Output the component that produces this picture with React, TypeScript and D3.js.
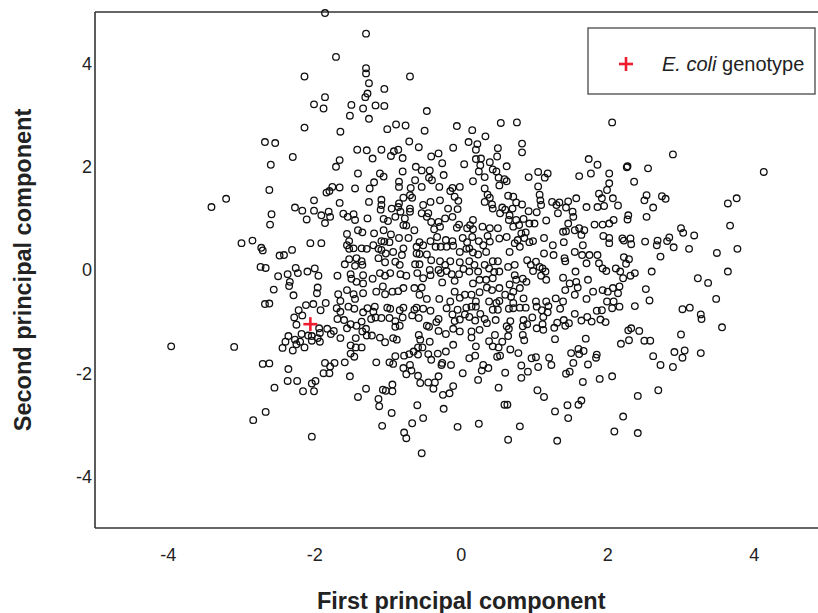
import React from "react";
import * as d3 from "d3";

const xTicks = [-4, -2, 0, 2, 4];
const yTicks = [-4, -2, 0, 2, 4];
const xTitle = "First principal component";
const yTitle = "Second principal component";
const legendLabelItalic = "E. coli";
const legendLabelRest = " genotype";
const ecoli: [number, number] = [-2.06, -1.05];

const genotypes: [number, number][] = [
[-2.14,3.75],[-2.01,3.21],[-2.14,2.76],[-2.68,2.48],[-2.54,2.46],
[-1.86,4.98],[-1.30,4.58],[-1.71,4.13],[-1.30,3.91],[-1.30,3.81],[-1.26,3.62],[-1.05,3.51],[-0.70,3.75],
[-1.86,3.35],[-1.88,3.13],[-1.50,3.20],[-1.28,3.42],[-1.31,3.35],[-1.34,3.13],[-1.17,3.19],[-1.05,3.18],
[-1.52,2.99],[-1.26,2.93],[-0.47,3.08],[-1.65,2.68],[-1.01,2.73],[-0.89,2.82],[-0.76,2.80],[-0.50,2.70],
[-0.06,2.79],[-0.71,2.49],[-0.58,2.38],[-0.11,2.37],[0.10,2.48],[-1.42,2.33],[-1.29,2.32],[-1.09,2.33],
[-0.92,2.30],[-0.86,2.33],[-0.31,2.26],
[0.54,2.85],[0.76,2.86],[2.06,2.86],[0.15,2.71],[0.33,2.59],[0.22,2.44],[0.50,2.36],[0.83,2.45],[0.83,2.28],[0.20,2.33],
[2.89,2.24],
[-2.30,2.19],[-2.60,2.04],[-2.62,1.55],[-3.21,1.38],[-3.41,1.22],[-2.01,1.35],[-2.27,1.21],[-2.17,1.15],[-2.01,1.15],
[-2.11,0.98],[-2.59,1.08],[-2.61,0.88],[-3.00,0.52],[-2.85,0.57],[-2.73,0.43],[-2.71,0.38],[-2.06,0.52],[-2.48,0.28],
[-2.42,0.29],[-2.31,0.39],[-2.74,0.06],[-2.67,0.04],[-2.26,0.04],[-2.23,-0.06],[-2.10,-0.03],[-2.50,-0.12],[-2.37,-0.08],
[-2.34,-0.23],[-2.35,-0.31],[-2.56,-0.38],[-2.29,-0.49],[-2.68,-0.66],[-2.62,-0.65],[-2.12,-0.68],[-2.02,-0.66],
[-2.22,-0.78],[-2.28,-0.92],[-2.17,-0.88],[-2.25,-1.06],[-2.36,-1.28],[-2.18,-1.24],[-2.09,-1.27],[-2.04,-1.28],
[-2.40,-1.39],[-2.27,-1.35],[-2.20,-1.39],[-2.25,-1.44],[-2.44,-1.51],[-2.30,-1.56],[-2.14,-1.50],[-2.04,-1.37],
[-3.96,-1.48],[-3.10,-1.49],[-2.71,-1.82],[-2.62,-1.81],[-2.36,-1.92],[-2.55,-2.28],[-2.37,-2.15],[-2.24,-2.15],
[-2.04,-2.20],[-1.99,-2.15],[-2.16,-2.35],[-2.01,-2.35],[-2.67,-2.75],[-2.84,-2.91],[-2.04,-3.23],
[2.37,-0.70],[2.16,-0.71],[3.02,-0.76],[3.12,-0.73],[3.27,-0.86],[3.28,-0.95],[3.56,-1.11],[2.28,-1.17],[2.32,-1.13],
[2.43,-1.18],[3.00,-1.25],[2.18,-1.43],[2.29,-1.36],[2.50,-1.37],[2.58,-1.37],[2.91,-1.59],[3.05,-1.56],[3.02,-1.70],
[3.27,-1.61],[2.62,-1.67],[2.72,-1.84],[2.89,-1.88],[2.69,-2.33],[2.41,-2.44],[2.21,-2.84],[2.41,-3.16],
[2.26,1.99],[2.27,2.01],[2.55,1.97],[4.13,1.90],[2.36,1.71],[2.53,1.45],[2.50,1.35],[2.74,1.43],[2.79,1.38],
[2.62,1.21],[3.76,1.39],[3.64,1.29],[2.28,1.06],[2.27,0.98],[2.53,1.03],[3.67,0.86],[3.00,0.81],[3.03,0.72],
[3.18,0.67],[2.20,0.61],[2.22,0.57],[2.31,0.61],[2.32,0.50],[2.51,0.55],[2.68,0.57],[2.67,0.48],[2.84,0.63],
[2.81,0.56],[2.90,0.44],[3.11,0.41],[3.77,0.41],[3.49,0.33],[2.72,0.26],[2.22,0.25],[2.29,0.21],[2.25,0.12],
[2.17,-0.03],[2.21,-0.16],[2.31,-0.11],[2.37,-0.06],[2.60,-0.03],[3.64,-0.03],[3.23,-0.16],[3.37,-0.25],
[2.16,-0.32],[2.52,-0.37],[2.57,-0.59],[3.48,-0.56],
[0.14,-0.71],[0.20,-0.71],[0.43,-0.77],[0.50,-0.77],[0.65,-0.75],[0.71,-0.74],[0.80,-0.73],[0.88,-0.73],[1.03,-0.71],
[1.10,-0.78],[1.19,-0.70],[1.18,-0.82],[1.35,-0.75],[1.55,-0.85],[1.85,-0.79],[1.92,-0.78],[2.06,-0.74],
[0.11,-0.91],[0.26,-0.85],[0.19,-0.98],[0.32,-0.95],[0.35,-1.03],[0.47,-0.97],[0.67,-0.99],[0.62,-1.09],[0.65,-1.14],
[0.85,-0.97],[0.90,-1.05],[0.84,-1.09],[0.97,-0.92],[1.12,-0.91],[1.11,-1.05],[1.03,-1.13],[1.12,-1.16],[1.27,-1.12],
[1.31,-1.02],[1.40,-0.97],[1.42,-1.08],[1.47,-1.03],[1.64,-0.98],[1.72,-0.91],[1.78,-1.00],[1.90,-0.96],[1.97,-1.01],
[0.14,-1.19],[0.25,-1.16],[0.14,-1.31],[0.46,-1.26],[0.64,-1.28],[0.84,-1.26],[0.86,-1.36],[0.38,-1.38],[0.43,-1.48],
[0.51,-1.50],[0.56,-1.39],[0.20,-1.48],[0.67,-1.54],[0.78,-1.61],[1.28,-1.34],[1.70,-1.33],[0.11,-1.71],[0.19,-1.66],
[0.30,-1.84],[0.28,-1.95],[0.37,-1.90],[0.49,-1.68],[0.53,-1.66],[0.60,-1.99],[0.82,-1.85],[0.91,-1.97],[0.82,-2.09],
[0.96,-1.71],[1.02,-1.69],[1.05,-1.88],[1.20,-1.70],[1.23,-1.84],[1.43,-2.01],[1.48,-1.97],[1.50,-1.61],[1.60,-1.53],
[1.61,-1.63],[1.67,-1.57],[1.53,-1.80],[1.73,-1.83],[1.85,-1.64],[1.84,-1.70],[1.89,-2.11],[2.06,-2.06],[1.66,-2.17],
[0.23,-2.13],[0.51,-2.28],[0.59,-2.61],[0.63,-2.61],[1.04,-2.33],[1.13,-2.46],[1.28,-2.74],[1.45,-2.62],[1.64,-2.53],
[1.60,-2.61],[1.46,-2.87],[0.24,-2.98],[0.80,-3.03],[0.64,-3.29],[1.31,-3.31],[2.09,-3.13],
[-1.92,-0.78],[-1.70,-0.74],[-1.65,-0.81],[-1.54,-0.71],[-1.46,-0.75],[-1.34,-0.82],[-1.28,-0.74],[-1.20,-0.81],
[-1.18,-0.71],[-1.23,-0.95],[-1.17,-0.92],[-1.09,-0.93],[-1.01,-0.73],[-0.97,-0.75],[-0.98,-0.93],[-0.90,-0.99],
[-0.84,-0.78],[-0.79,-0.73],[-0.80,-0.92],[-0.67,-0.88],[-0.64,-0.77],[-0.58,-0.93],[-0.61,-0.73],[-0.52,-0.75],
[-0.42,-0.79],[-0.31,-0.95],[-0.34,-1.01],[-0.20,-0.74],[-0.12,-0.86],[-0.05,-0.77],[-0.09,-0.99],[-0.02,-0.96],
[0.05,-0.86],[0.07,-0.73],[-1.69,-0.95],[-1.60,-0.97],[-1.56,-1.13],[-1.51,-1.05],[-1.43,-1.08],[-1.36,-1.00],
[-1.30,-1.14],[-1.35,-1.19],[-1.29,-1.27],[-1.22,-1.27],[-1.11,-1.31],[-1.04,-1.40],[-0.93,-1.32],[-0.88,-1.35],
[-0.90,-1.10],[-0.84,-1.08],[-1.94,-1.13],[-1.93,-1.22],[-1.83,-1.14],[-1.78,-1.24],[-1.74,-1.18],[-1.65,-1.32],
[-1.96,-1.32],[-1.93,-1.39],[-1.44,-1.32],[-1.51,-1.46],[-1.44,-1.50],[-1.36,-1.50],[-1.51,-1.62],[-1.46,-1.68],
[-0.47,-1.08],[-0.44,-1.10],[-0.31,-1.18],[-0.21,-1.24],[-0.11,-1.14],[-0.02,-1.19],[-0.58,-1.26],[-0.56,-1.35],
[-0.43,-1.39],[-0.59,-1.50],[-0.53,-1.50],[-0.65,-1.58],[-0.71,-1.63],[-0.78,-1.66],[-0.59,-1.64],[-0.45,-1.63],
[-0.41,-1.74],[-0.32,-1.62],[-0.21,-1.58],[-0.11,-1.45],[-1.86,-1.80],[-1.73,-1.80],[-1.79,-1.87],[-1.88,-2.00],
[-1.80,-2.00],[-1.59,-1.79],[-1.52,-2.06],[-1.16,-1.79],[-0.98,-1.79],[-0.93,-1.82],[-0.90,-1.67],[-0.79,-1.90],
[-0.70,-1.84],[-0.75,-2.02],[-0.68,-1.95],[-0.59,-2.05],[-0.56,-2.19],[-0.45,-2.18],[-0.36,-2.18],[-0.38,-2.30],
[-0.31,-2.06],[-0.27,-1.84],[-0.14,-1.84],[-0.26,-1.80],[0.02,-2.00],[-1.41,-2.46],[-1.30,-2.30],[-1.07,-2.32],
[-1.03,-2.34],[-0.94,-2.22],[-0.94,-2.35],[-1.13,-2.50],[-1.12,-2.64],[-0.95,-2.77],[-1.08,-3.02],[-0.78,-3.15],
[-0.75,-3.26],[-0.67,-2.97],[-0.60,-2.62],[-0.52,-2.87],[-0.24,-2.69],[-0.16,-2.39],[-0.25,-2.42],[-0.11,-2.25],
[-0.05,-3.04],[-0.54,-3.55],
[-1.66,2.13],[-1.71,2.00],[-1.21,2.16],[-0.96,2.21],[-0.80,2.17],[-0.41,2.20],[-0.26,2.07],[0.04,2.05],[-1.41,1.87],
[-1.11,1.87],[-1.06,1.81],[-0.80,1.91],[-0.62,2.00],[-0.54,1.93],[-0.43,1.93],[-0.44,1.79],[-0.40,1.74],[-0.24,1.84],
[-1.19,1.70],[-1.25,1.58],[-1.45,1.58],[-1.66,1.60],[-1.76,1.61],[-1.84,1.50],[-1.80,1.53],[-1.66,1.30],[-1.26,1.32],
[-1.09,1.36],[-1.09,1.26],[-1.10,1.17],[-0.85,1.71],[-0.85,1.61],[-0.69,1.59],[-0.63,1.74],[-0.54,1.61],[-0.30,1.61],
[-0.15,1.53],[-0.02,1.61],[-0.12,1.59],[-0.09,1.42],[-0.04,1.34],[-0.18,1.19],[-0.05,1.18],[-0.85,1.29],[-0.79,1.40],
[-0.70,1.45],[-0.67,1.40],[-0.95,1.19],[-0.86,1.22],[-0.83,1.13],[-0.70,1.19],[-0.70,1.13],[-0.52,1.26],[-0.42,1.32],
[-0.54,1.10],[-0.45,1.10],[-0.29,1.35],[-1.91,1.06],[-1.81,1.13],[-1.79,1.03],[-1.86,0.91],[-1.61,1.09],[-1.55,1.03],
[-1.47,1.08],[-1.45,0.97],[-1.28,1.00],[-1.06,0.99],[-1.00,0.95],[-0.90,1.03],[-0.77,1.00],[-0.79,0.87],[-0.75,0.86],
[-0.64,0.77],[-0.47,1.03],[-0.41,0.93],[-0.31,0.93],[-0.29,0.84],[-0.37,0.79],[-0.22,1.00],[-0.12,1.03],[-0.03,0.88],
[-0.06,0.82],[0.08,0.81],[-1.56,0.70],[-1.53,0.56],[-1.56,0.48],[-1.41,0.77],[-1.35,0.73],[-1.19,0.71],[-1.06,0.77],
[-0.96,0.69],[-1.09,0.56],[-1.05,0.55],[-0.98,0.54],[-0.85,0.62],[-0.72,0.62],[-0.57,0.54],[-0.61,0.45],[-0.52,0.48],
[-0.42,0.56],[-0.33,0.64],[-0.21,0.58],[-0.12,0.56],[0.02,0.62],[0.08,0.54],[-1.91,0.52],[-1.47,0.42],[-1.53,0.41],
[-1.36,0.42],[-1.29,0.41],[-1.20,0.48],[-1.13,0.41],[-1.09,0.39],[-1.03,0.32],[-0.93,0.35],[-0.81,0.29],[-0.79,0.42],
[-0.61,0.32],[-0.57,0.31],[-0.47,0.30],[-0.35,0.45],[-0.28,0.45],[-0.20,0.45],[-0.11,0.47],[-0.02,0.35],[0.07,0.41],
[-1.59,0.11],[-1.53,0.21],[-1.43,0.23],[-1.36,0.17],[-1.45,0.08],[-1.35,0.10],[-1.13,0.23],[-1.04,0.15],[-0.90,0.16],
[-0.84,0.10],[-0.63,0.11],[-0.57,0.11],[-0.41,0.19],[-0.29,0.17],[-0.22,0.10],[-0.15,0.17],[-0.02,0.15],[0.03,0.02],
[-0.43,0.00],[-0.31,0.00],[-0.28,-0.06],[-0.20,-0.02],[-0.13,-0.08],[-0.03,-0.08],[-2.00,0.03],[-1.95,-0.11],
[-1.69,-0.11],[-1.51,-0.08],[-1.50,-0.17],[-1.43,-0.23],[-1.34,-0.26],[-1.34,-0.10],[-1.21,-0.17],[-1.11,-0.06],
[-1.04,-0.11],[-0.97,-0.06],[-0.83,-0.08],[-0.75,-0.11],[-0.60,-0.06],[-0.52,-0.16],[-0.42,-0.10],[-0.26,-0.24],
[-0.09,-0.21],[-1.96,-0.34],[-1.97,-0.45],[-1.68,-0.47],[-1.65,-0.60],[-1.56,-0.39],[-1.47,-0.47],[-1.45,-0.56],
[-1.34,-0.45],[-1.16,-0.42],[-1.07,-0.32],[-1.04,-0.47],[-0.94,-0.42],[-0.86,-0.41],[-0.79,-0.35],[-0.64,-0.35],
[-0.54,-0.34],[-0.57,-0.48],[-0.47,-0.56],[-0.30,-0.56],[-0.09,-0.42],[-0.02,-0.54],[0.05,-0.48],[-1.85,-0.64],
[-0.15,-0.61],
[0.20,2.15],[0.27,2.16],[0.39,2.09],[0.49,2.20],[0.26,2.03],[0.24,1.91],[0.16,1.72],[0.32,1.80],[0.43,1.95],[0.48,1.91],
[0.51,1.79],[0.52,1.64],[0.59,1.76],[0.62,1.72],[0.62,2.01],[0.92,1.80],[1.05,1.90],[1.14,1.79],[1.18,1.87],[1.05,1.62],
[1.07,1.46],[1.08,1.35],[1.09,1.26],[1.03,1.12],[0.92,1.14],[0.83,1.27],[0.85,0.99],[0.93,0.90],[1.00,0.90],[0.64,1.44],
[0.71,1.42],[0.75,1.31],[0.70,1.19],[0.60,1.17],[0.56,1.21],[0.66,1.06],[0.65,0.97],[0.53,1.10],[0.43,1.19],[0.32,1.58],
[0.36,1.46],[0.39,1.40],[0.42,1.27],[0.32,1.32],[0.16,0.97],[0.12,0.87],[0.16,0.79],[0.29,0.84],[0.39,0.81],[0.50,0.81],
[0.15,0.64],[0.24,0.56],[0.30,0.48],[0.36,0.66],[0.39,0.55],[0.11,0.42],[0.16,0.34],[0.23,0.30],[0.34,0.35],[0.52,0.61],
[0.62,0.64],[0.71,0.84],[0.75,0.97],[0.79,0.87],[0.82,0.71],[0.88,0.73],[0.77,0.58],[0.86,0.62],[0.93,0.54],[0.98,0.56],
[0.73,0.52],[0.80,0.45],[0.66,0.35],[1.16,0.96],[1.24,1.32],[1.30,1.26],[1.34,1.31],[1.32,1.10],[1.43,1.21],[1.46,1.33],
[1.57,1.39],[1.52,1.13],[1.53,1.03],[1.46,0.90],[1.39,0.74],[1.43,0.75],[1.55,0.77],[1.61,0.81],[1.68,0.77],[1.64,0.68],
[1.71,1.22],[1.74,2.15],[1.86,2.04],[1.61,1.82],[1.77,1.87],[2.02,1.87],[2.02,1.68],[1.99,1.55],[1.88,1.48],[1.92,1.39],
[2.07,1.39],[2.14,1.25],[1.86,1.22],[1.95,1.24],[1.82,0.88],[1.93,0.88],[2.02,0.90],[2.08,0.97],[1.94,0.66],[2.02,0.52],
[2.02,0.62],[1.13,0.62],[1.25,0.48],[1.40,0.54],[1.13,0.32],[1.26,0.29],[1.41,0.23],[1.42,0.17],[1.55,0.35],[1.66,0.48],
[1.65,0.29],[1.75,0.29],[1.71,0.13],[1.86,0.29],[1.88,0.13],[1.93,0.03],[1.98,-0.02],[2.11,0.03],[0.11,0.17],[0.18,0.10],
[0.11,-0.03],[0.23,-0.03],[0.32,0.10],[0.38,0.03],[0.43,0.17],[0.50,0.17],[0.45,-0.04],[0.52,-0.03],[0.25,-0.19],
[0.34,-0.19],[0.43,-0.16],[0.16,-0.26],[0.14,-0.48],[0.25,-0.43],[0.35,-0.34],[0.42,-0.39],[0.52,-0.35],[0.64,0.06],
[0.73,0.10],[0.73,-0.10],[0.75,-0.19],[0.66,-0.28],[0.60,-0.48],[0.71,-0.42],[0.80,-0.35],[0.84,-0.17],[0.89,-0.23],
[0.90,0.19],[0.95,0.10],[0.98,-0.02],[1.02,0.16],[1.07,0.06],[1.09,-0.11],[1.16,-0.19],[1.11,0.03],[1.15,-0.03],
[1.39,-0.15],[1.48,-0.26],[1.57,-0.23],[1.59,-0.34],[1.56,-0.03],[1.73,-0.19],[1.80,-0.42],[1.42,-0.39],[1.55,-0.48],
[1.29,-0.55],[1.39,-0.61],[1.71,-0.56],[1.93,-0.39],[2.00,-0.42],[2.07,-0.35],[2.14,-0.45],[1.99,-0.61],[2.08,-0.61],
[0.20,-0.61],[0.38,-0.61],[0.48,-0.64],[0.52,-0.60],[0.68,-0.52],[0.71,-0.64],[0.85,-0.55],[1.02,-0.61],[1.16,-0.61]
];

const W = 818;
const H = 613;
const margin = { left: 95, top: 12, bottom: 85 };
const plotW = 732.5;

export default function App() {
  const x = d3.scaleLinear().domain([-5, 5]).range([margin.left, margin.left + plotW]);
  const y = d3.scaleLinear().domain([-5, 5]).range([H - margin.bottom, margin.top]);
  const frame = "#333";
  const font = "Liberation Sans, Arial, Helvetica, sans-serif";
  const [ex, ey] = [x(ecoli[0]), y(ecoli[1])];
  const fmt = (t: number) => (t < 0 ? "-" + Math.abs(t) : String(t));
  return (
    <svg width={W} height={H} style={{ position: "absolute", left: 0, top: 0, background: "#fff" }} fontFamily={font}>
      <defs>
        <clipPath id="plotclip">
          <rect x={margin.left} y={margin.top - 4} width={plotW} height={H - margin.bottom - margin.top + 8} />
        </clipPath>
      </defs>
      <line x1={margin.left} x2={W + 20} y1={y(5)} y2={y(5)} stroke={frame} strokeWidth={1.6} />
      <line x1={margin.left} x2={W + 20} y1={y(-5)} y2={y(-5)} stroke={frame} strokeWidth={1.6} />
      <line x1={margin.left} x2={margin.left} y1={y(5)} y2={y(-5)} stroke={frame} strokeWidth={1.6} />
      {yTicks.map((t) => (
        <text key={"y" + t} x={margin.left - (t < 0 ? 11 : 8)} y={y(t)} dy="0.36em" textAnchor="middle" fontSize={18} fill="#222">
          {fmt(t)}
        </text>
      ))}
      {xTicks.map((t) => (
        <text key={"x" + t} x={x(t)} y={y(-5) + 33} textAnchor="middle" fontSize={18} fill="#222">
          {fmt(t)}
        </text>
      ))}
      <text x={x(0)} y={609} textAnchor="middle" fontSize={23.5} fontWeight="bold" fill="#222">{xTitle}</text>
      <text transform={`translate(31,${y(0)}) rotate(-90)`} textAnchor="middle" fontSize={23.5} fontWeight="bold" fill="#222">{yTitle}</text>
      <g clipPath="url(#plotclip)">
        {genotypes.map((d, i) => (
          <circle key={i} cx={x(d[0])} cy={y(d[1])} r={3.3} fill="none" stroke="#111" strokeWidth={1.3} />
        ))}
        <g stroke="#ee1c2e" strokeWidth={2.6}>
          <line x1={ex - 7} x2={ex + 7} y1={ey} y2={ey} />
          <line x1={ex} x2={ex} y1={ey - 7} y2={ey + 7} />
        </g>
      </g>
      <rect x={588} y={28} width={227} height={66} fill="#fff" stroke="#555" strokeWidth={1.4} />
      <g stroke="#ee1c2e" strokeWidth={2.6}>
        <line x1={619} x2={633} y1={64} y2={64} />
        <line x1={626} x2={626} y1={57} y2={71} />
      </g>
      <text x={662} y={71} fontSize={20} fill="#222">
        <tspan fontStyle="italic">{legendLabelItalic}</tspan>
        <tspan>{legendLabelRest}</tspan>
      </text>
    </svg>
  );
}
